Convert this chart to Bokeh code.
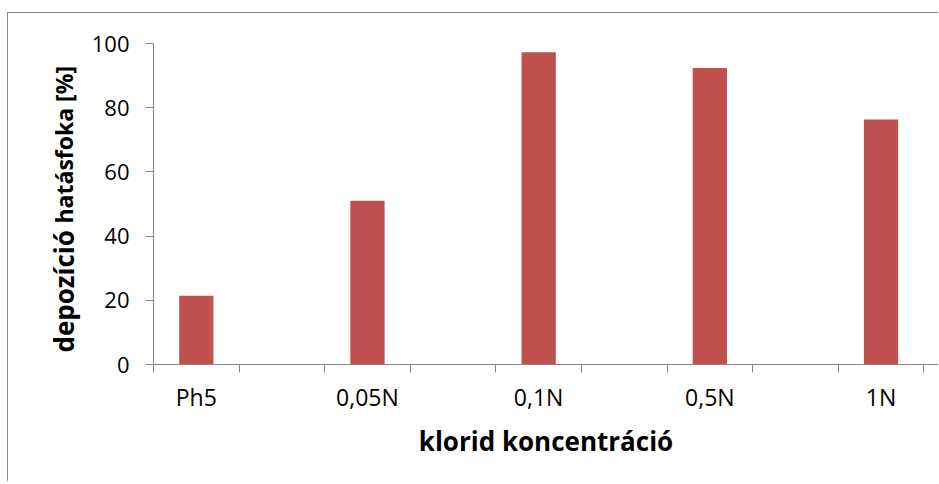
import math
from bokeh.plotting import figure
from bokeh.layouts import row
from bokeh.models import (Range1d, FixedTicker, Label, ColumnDataSource)
from bokeh.embed import file_html
from bokeh.resources import INLINE

# ---- data ----
categories = ["Ph5", "0,05N", "0,1N", "0,5N", "1N"]
values = [21.4, 51.0, 97.3, 92.4, 76.3]
y_ticks = [0, 20, 40, 60, 80, 100]
y_title_main = "depozíció"
y_title_sub = "hatásfoka [%]"
x_title = "klorid koncentráció"

# ---- layout ----
H = 468
LW = 80                     # width of the strip holding the y title
W = 930 - LW
ML, MT, MB = 144 - LW, 30, 117
SLOT_PX = 85.7
frame_w = W - ML
n_slots = 2 * len(categories)
x_end = frame_w / SLOT_PX
AX = "#868686"
FONT = "Open Sans"

centers = [2 * i + 0.5 for i in range(len(categories))]
bounds = list(range(0, n_slots + 1))
src = ColumnDataSource(dict(x=centers, top=values, cat=categories))

p = figure(width=W, height=H, output_backend="svg", toolbar_location=None,
           x_range=Range1d(0, x_end), y_range=Range1d(0, 100),
           min_border_left=ML, min_border_right=0, min_border_top=MT,
           min_border_bottom=MB, tools="",
           background_fill_color="white", border_fill_color="white")
p.outline_line_color = None
p.grid.visible = False

p.vbar(x="x", top="top", width=0.4, source=src,
       fill_color="#C0504D", line_color=None)

ya = p.yaxis[0]
ya.ticker = FixedTicker(ticks=y_ticks)
ya.axis_line_color = AX
ya.major_tick_line_color = AX
ya.major_tick_out = 8
ya.major_tick_in = 0
ya.minor_tick_line_color = None
ya.major_label_text_font = FONT
ya.major_label_text_font_size = "22px"
ya.major_label_text_color = "#000000"
ya.major_label_standoff = 16

xa = p.xaxis[0]
xa.ticker = FixedTicker(ticks=centers, minor_ticks=bounds)
xa.major_label_overrides = {c: t for c, t in zip(centers, categories)}
xa.axis_line_color = AX
xa.major_tick_line_color = None
xa.major_tick_out = 0
xa.major_tick_in = 0
xa.minor_tick_line_color = AX
xa.minor_tick_out = 8
xa.minor_tick_in = 0
xa.major_label_text_font = FONT
xa.major_label_text_font_size = "23px"
xa.major_label_text_color = "#000000"
xa.major_label_standoff = 8
xa.axis_label = x_title
xa.axis_label_text_font = FONT
xa.axis_label_text_font_style = "bold"
xa.axis_label_text_font_size = "26px"
xa.axis_label_text_color = "#000000"
xa.axis_label_standoff = 7

# ---- strip on the left carrying the two-size y-axis title ----
# (its frame is aligned with the main plot's frame by the row layout;
#  screen units are measured from the frame's bottom-left corner)
t = figure(width=LW, height=H, output_backend="svg", toolbar_location=None,
           x_range=Range1d(0, 1), y_range=Range1d(0, 1), tools="",
           x_axis_location=None, y_axis_location=None,
           min_border_left=0, min_border_right=0, min_border_top=0,
           min_border_bottom=0, background_fill_color="white",
           border_fill_color="white")
t.grid.visible = False
t.outline_line_color = None
BASE_X = 55                 # baseline, px from strip frame's left edge
t.add_layout(Label(x=BASE_X, y=12, x_units="screen", y_units="screen",
                   text=y_title_main, angle=math.pi / 2,
                   text_font=FONT, text_font_style="bold", text_font_size="26px",
                   text_color="#000000", text_align="left",
                   text_baseline="alphabetic"))
t.add_layout(Label(x=BASE_X, y=141, x_units="screen", y_units="screen",
                   text=y_title_sub, angle=math.pi / 2,
                   text_font=FONT, text_font_style="bold", text_font_size="23px",
                   text_color="#000000", text_align="left",
                   text_baseline="alphabetic"))

layout = row(t, p, spacing=0,
             styles={"border-top": "1px solid #878787",
                     "border-left": "1px solid #878787",
                     "margin-top": "12px", "margin-left": "7px"})

open("out.html", "w").write(file_html(layout, INLINE))
